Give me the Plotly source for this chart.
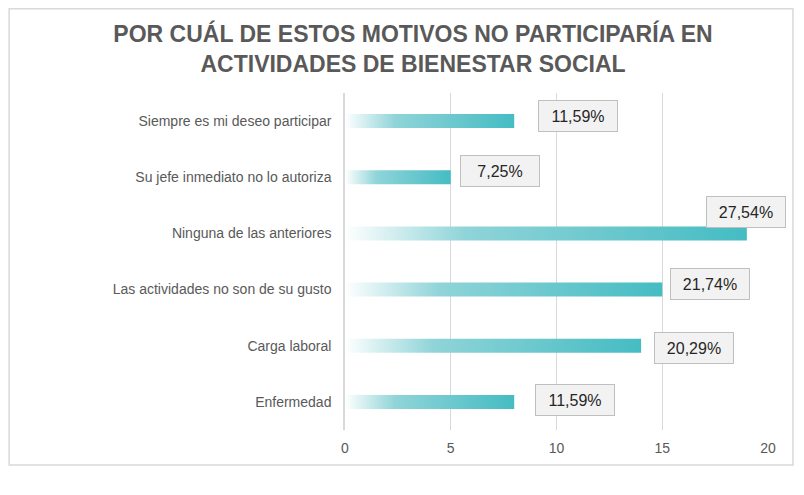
import plotly.graph_objects as go

# Data (bottom to top)
categorias = [
    'Enfermedad',
    'Carga laboral',
    'Las actividades no son de su gusto',
    'Ninguna de las anteriores',
    'Su jefe inmediato no lo autoriza',
    'Siempre es mi deseo participar',
]
respuestas = [8, 14, 15, 19, 5, 8]
porcentajes = ['11,59%', '20,29%', '21,74%', '27,54%', '7,25%', '11,59%']
x_ticks = [0, 5, 10, 15, 20]

# label box offsets (px) as placed in the original chart
label_dx = [21, 13, 8, -41, 9, 24]
label_dy = [2, -2, 6, 21, 6, 5]

GREY = '#595959'
FONT = 'Liberation Sans, Arial, sans-serif'
half = 0.125

fig = go.Figure()

# Each bar drawn as a filled polygon so it can carry a horizontal gradient
for i, v in enumerate(respuestas):
    fig.add_trace(go.Scatter(
        x=[0, v, v, 0, 0],
        y=[i - half, i - half, i + half, i + half, i - half],
        mode='lines',
        line=dict(width=0),
        fill='toself',
        fillgradient=dict(
            type='horizontal',
            colorscale=[[0, '#ffffff'], [0.3, '#8fd4d8'], [1, '#45bcc3']],
        ),
        hoverinfo='skip',
        showlegend=False,
    ))

# Data labels in boxes
for i, (v, p) in enumerate(zip(respuestas, porcentajes)):
    fig.add_annotation(
        x=v, y=i, text=p, showarrow=False,
        xanchor='left', yanchor='middle',
        xshift=label_dx[i], yshift=label_dy[i],
        font=dict(family=FONT, size=16, color='#262626'),
        bgcolor='#f2f2f2', bordercolor='#bfbfbf', borderwidth=1,
        width=74, height=26, borderpad=2, align='center',
    )

# Outer chart frame
fig.add_shape(type='rect', xref='paper', yref='paper',
              x0=-0.794, x1=1.059, y0=-0.104, y1=1.25,
              line=dict(color='#d9d9d9', width=1.5), fillcolor='rgba(0,0,0,0)', layer='below')

# page body has an 8px margin, so the figure is sized to fit inside the window
fig.update_layout(
    width=788, height=479,
    margin=dict(l=337, r=28, t=85, b=57),
    paper_bgcolor='white', plot_bgcolor='white',
    title=dict(
        text='POR CUÁL DE ESTOS MOTIVOS NO PARTICIPARÍA EN<br>ACTIVIDADES DE BIENESTAR SOCIAL',
        x=0.514, xanchor='center', y=0.928, yanchor='middle',
        font=dict(family=FONT, size=23, color=GREY, weight='bold'),
    ),
    font=dict(family=FONT, size=14, color=GREY),
)

fig.update_xaxes(
    range=[0, 20], tickvals=x_ticks, showgrid=True, gridcolor='#d9d9d9', gridwidth=1,
    zeroline=False, showline=False, ticks='', ticklabelstandoff=8,
    tickfont=dict(size=14, color=GREY), fixedrange=True,
)
fig.update_yaxes(
    range=[-0.5, 5.5], tickvals=list(range(len(categorias))), ticktext=categorias,
    showgrid=False, zeroline=False, showline=True, linecolor='#d9d9d9', linewidth=1.5,
    ticks='', ticklabelstandoff=9, tickfont=dict(size=14, color=GREY), fixedrange=True,
)

fig.write_html('out.html')
